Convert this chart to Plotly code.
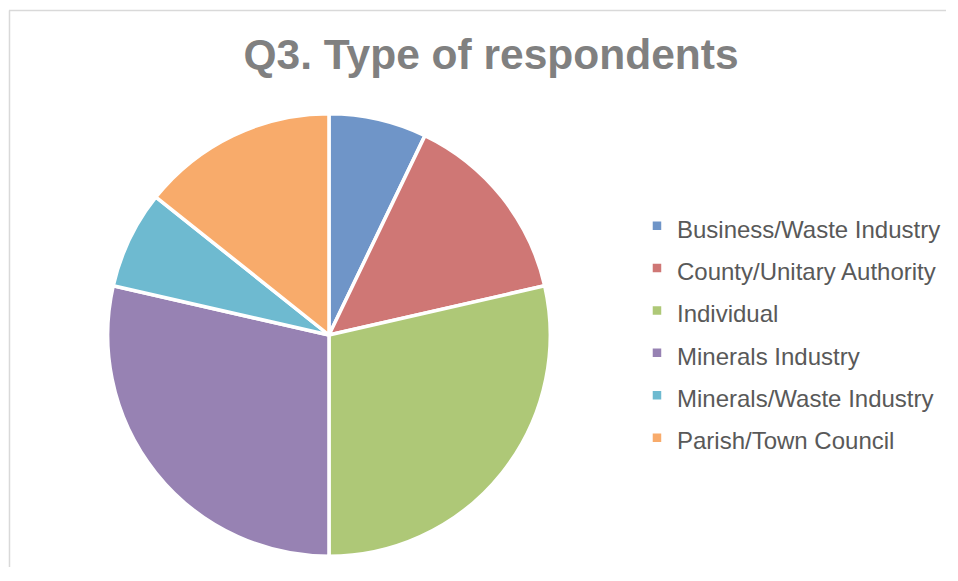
import plotly.graph_objects as go

labels = ["Business/Waste Industry", "County/Unitary Authority", "Individual",
          "Minerals Industry", "Minerals/Waste Industry", "Parish/Town Council"]
values = [1, 2, 4, 4, 1, 2]
colors = ["#6F95C8", "#CF7775", "#AEC877", "#9782B3", "#6EBAD0", "#F8AB6B"]

OFF = 8  # page body margin offset
W, H = 958 - 2 * OFF - 4, 581 - 2 * OFF - 6

def px(x):
    return (x - OFF) / W

def py(y):
    return 1 - (y - OFF) / H

legend_labels = ["<span style='font-size:24px'>" + l + "</span>" for l in labels]

fig = go.Figure(go.Pie(
    labels=legend_labels, values=values, sort=False, direction="clockwise", rotation=0,
    marker=dict(colors=colors, line=dict(color="white", width=3.5)),
    textinfo="none", hoverinfo="label+value+percent",
    domain=dict(x=[px(108), px(552)], y=[py(557), py(113)]),
))

fig.update_layout(
    width=W, height=H,
    margin=dict(l=0, r=0, t=0, b=0),
    paper_bgcolor="white", plot_bgcolor="white",
    title=dict(text="Q3. Type of respondents", x=px(491), xanchor="center",
               y=py(54), yanchor="middle",
               font=dict(family="Liberation Sans, Arial", size=42.5, color="#808080", weight="bold")),
    legend=dict(x=px(639), xanchor="left", y=py(332), yanchor="middle",
                font=dict(family="Liberation Sans, Arial", size=30.3, color="#595959"),
                bgcolor="rgba(0,0,0,0)"),
    shapes=[
        dict(type="line", xref="paper", yref="paper", x0=px(9), x1=1.05, y0=py(10.5), y1=py(10.5),
             line=dict(color="#d9d9d9", width=1.5)),
        dict(type="line", xref="paper", yref="paper", x0=px(9.5), x1=px(9.5), y0=-0.05, y1=py(10.5),
             line=dict(color="#d9d9d9", width=1.5)),
    ],
)

fig.write_html("out.html")
